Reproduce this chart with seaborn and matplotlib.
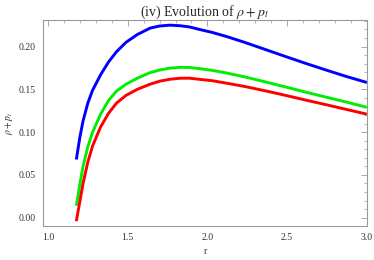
import numpy as np
import pandas as pd
import matplotlib.pyplot as plt
import seaborn as sns
from matplotlib.ticker import MultipleLocator

# values
r = [1.178, 1.20, 1.22, 1.25, 1.28, 1.33, 1.38, 1.43, 1.49, 1.56, 1.64, 1.70,
     1.765, 1.83, 1.89, 1.95, 2.03, 2.12, 2.235, 2.37, 2.50, 2.62, 2.75,
     2.87, 3.00]
blue = [0.068, 0.094, 0.113, 0.134, 0.149, 0.167, 0.182, 0.194, 0.205, 0.214,
        0.2215, 0.224, 0.225, 0.2243, 0.2228, 0.2200, 0.2165, 0.2117, 0.2048,
        0.1961, 0.1877, 0.1801, 0.1722, 0.1651, 0.158]
green = [0.014, 0.039, 0.060, 0.083, 0.100, 0.121, 0.137, 0.148, 0.156, 0.163,
         0.1695, 0.1725, 0.1748, 0.1757, 0.1755, 0.1742, 0.1722, 0.1691,
         0.1645, 0.1584, 0.1523, 0.1466, 0.1406, 0.1352, 0.129]
red = [-0.004, 0.019, 0.040, 0.065, 0.084, 0.106, 0.122, 0.134, 0.143, 0.150,
       0.156, 0.1595, 0.1618, 0.163, 0.163, 0.1617, 0.1601, 0.1572, 0.1533,
       0.1480, 0.1425, 0.1373, 0.1318, 0.1266, 0.121]

df = pd.DataFrame({'r': r, 'blue': blue, 'green': green, 'red': red})

sns.set_style('white')
plt.rcParams['font.family'] = ['Liberation Serif', 'DejaVu Serif']
plt.rcParams['mathtext.fontset'] = 'stix'

fig = plt.figure(figsize=(3.74, 2.6), dpi=100)
ax = fig.add_axes([0.115, 0.132, 0.866, 0.791])

for col, c in [('blue', '#0000ff'), ('green', '#00ee00'), ('red', '#ff0000')]:
    sns.lineplot(data=df, x='r', y=col, color=c, lw=2.1, ax=ax,
                 estimator=None, sort=False, solid_capstyle='butt',
                 solid_joinstyle='round')

ax.set_xlim(0.969, 3.0)
ax.set_ylim(-0.0093, 0.231)
ax.xaxis.set_major_locator(MultipleLocator(0.5))
ax.xaxis.set_minor_locator(MultipleLocator(0.1))
ax.yaxis.set_major_locator(MultipleLocator(0.05))
ax.yaxis.set_minor_locator(MultipleLocator(0.01))
ax.xaxis.set_major_formatter(plt.FormatStrFormatter('%.1f'))
ax.yaxis.set_major_formatter(plt.FormatStrFormatter('%.2f'))

ax.tick_params(which='both', direction='in', top=True, right=True,
               color='#999999', labelsize=7, labelcolor='#333333')
ax.tick_params(which='major', length=4, width=0.6, pad=5)
ax.tick_params(which='minor', length=2, width=0.5)
for s in ax.spines.values():
    s.set_color('#999999')
    s.set_linewidth(0.8)

ax.set_title(r'(iv) Evolution of $\rho+p_t$', fontsize=10, pad=3)
ax.set_xlabel('r', fontsize=7, color='#333333')
ax.set_ylabel(r'$\rho+p_t$', fontsize=7, color='#333333', labelpad=3)

fig.savefig('out.png', dpi=100)
